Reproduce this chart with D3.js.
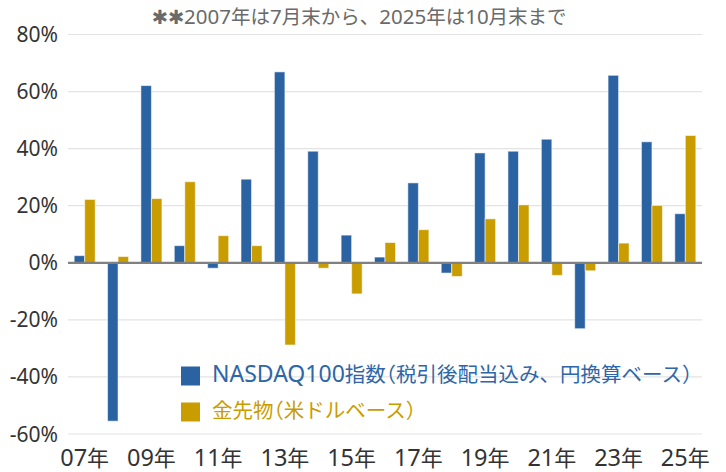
<!DOCTYPE html>
<meta charset="utf-8">
<style>
body { margin: 0; background: #fff; }
text { font-family: "Noto Sans CJK JP", "Noto Sans", sans-serif; }
.lat { font-family: "Noto Sans", sans-serif; }
.half { font-feature-settings: "halt"; }
</style>
<script src="https://d3js.org/d3.v7.min.js"></script>
<div id="chart"></div>
<script>
// data
var years = ["07","08","09","10","11","12","13","14","15","16","17","18","19","20","21","22","23","24","25"];
var nasdaq = [2.5,-55.5,62.1,6.0,-1.9,29.3,66.9,39.1,9.7,2.0,28.0,-3.6,38.5,39.1,43.3,-23.1,65.7,42.4,17.2];
var gold = [22.2,2.2,22.5,28.4,9.5,6.0,-28.8,-1.9,-10.9,7.1,11.6,-4.8,15.4,20.3,-4.4,-2.8,6.9,20.1,44.6];
var yTicks = [-60,-40,-20,0,20,40,60,80];
var seriesNames = ["NASDAQ100指数（税引後配当込み、円換算ベース）", "金先物（米ドルベース）"];
var colors = ["#2a62a2", "#c99c00"];
var textColors = ["#2e66a8", "#c99c00"];
var note = "✱✱2007年は7月末から、2025年は10月末まで";

var W = 726, H = 472;
var margin = {top: 34.5, right: 24, bottom: 38, left: 68};

// write mixed latin / japanese text as runs with their own sizes
function runs(sel, str, latSize, cjkSize) {
  var parts = str.match(/[\x20-\x7e]+|[（）]|✱+|[^\x20-\x7e（）✱]+/g);
  parts.forEach(function(p) {
    var t = sel.append("tspan").text(p);
    if (/^[\x20-\x7e]+$/.test(p)) {
      t.attr("class", "lat").attr("font-size", latSize);
    } else if (/^[（）]$/.test(p)) {
      t.attr("class", "half").attr("font-size", cjkSize);
    } else if (/^✱+$/.test(p)) {
      t.style("font-family", "DejaVu Sans").attr("font-size", cjkSize);
    } else {
      t.attr("font-size", cjkSize);
    }
  });
  return sel;
}

var svg = d3.select("#chart").append("svg")
    .attr("width", W)
    .attr("height", H);

var x = d3.scaleBand()
    .domain(years)
    .range([margin.left, W - margin.right])
    .paddingInner(0.37)
    .paddingOuter(0.185);

var y = d3.scaleLinear()
    .domain([-60, 80])
    .range([H - margin.bottom, margin.top]);

var x1 = d3.scaleBand()
    .domain([0, 1])
    .range([0, x.bandwidth()]);

// gridlines
svg.append("g")
  .selectAll("line")
  .data(yTicks.filter(function(d) { return d != 0; }))
  .enter().append("line")
    .attr("x1", margin.left)
    .attr("x2", W - margin.right)
    .attr("y1", function(d) { return y(d); })
    .attr("y2", function(d) { return y(d); })
    .attr("stroke", "#e3e3e3")
    .attr("stroke-width", 1.2);

// y labels
svg.append("g")
  .selectAll("text")
  .data(yTicks)
  .enter().append("text")
    .attr("class", "lat")
    .attr("x", 58)
    .attr("y", function(d) { return y(d); })
    .attr("dy", "0.36em")
    .attr("text-anchor", "end")
    .attr("font-size", 21)
    .attr("fill", "#333")
    .text(function(d) { return d + "%"; });

// bars
var data = years.map(function(yr, i) { return {year: yr, vals: [nasdaq[i], gold[i]]}; });
var groups = svg.append("g")
  .selectAll("g")
  .data(data)
  .enter().append("g")
    .attr("transform", function(d) { return "translate(" + x(d.year) + ",0)"; });

groups.selectAll("rect")
  .data(function(d) { return d.vals.map(function(v, k) { return {k: k, v: v}; }); })
  .enter().append("rect")
    .attr("x", function(d) { return x1(d.k); })
    .attr("width", x1.bandwidth())
    .attr("y", function(d) { return y(Math.max(0, d.v)); })
    .attr("height", function(d) { return Math.abs(y(d.v) - y(0)); })
    .attr("fill", function(d) { return colors[d.k]; })
    .attr("stroke", "rgba(255,255,255,0.55)")
    .attr("stroke-width", 1);

// zero line
svg.append("line")
    .attr("x1", margin.left)
    .attr("x2", W - margin.right)
    .attr("y1", y(0))
    .attr("y2", y(0))
    .attr("stroke", "#808080")
    .attr("stroke-width", 2.2);

// x labels every other year
svg.append("g")
  .selectAll("text")
  .data(years.filter(function(d, i) { return i % 2 == 0; }))
  .enter().append("text")
    .attr("x", function(d) { return x(d) + x.bandwidth() / 2; })
    .attr("y", 466)
    .attr("text-anchor", "middle")
    .attr("fill", "#333")
    .each(function(d) { runs(d3.select(this), d + "年", 23.5, 22); });

// note
runs(svg.append("text")
    .attr("x", 359)
    .attr("y", 24)
    .attr("text-anchor", "middle")
    .attr("fill", "#6a6a6a"), note, 20.5, 19.5);

// legend
var leg = svg.append("g");
seriesNames.forEach(function(name, k) {
  var ly = 376 + k * 36;
  leg.append("rect")
      .attr("x", 181)
      .attr("y", ly - 9.5)
      .attr("width", 19)
      .attr("height", 19)
      .attr("fill", colors[k]);
  runs(leg.append("text")
      .attr("x", 212)
      .attr("y", ly)
      .attr("dy", "0.36em")
      .attr("fill", textColors[k]), name, 23, 20.5);
});
</script>
